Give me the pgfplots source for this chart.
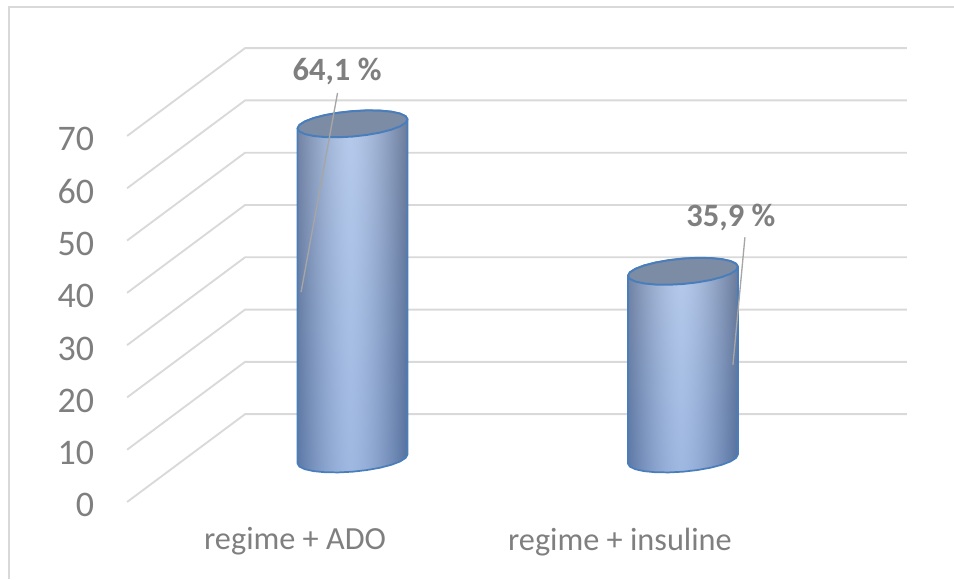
\documentclass[border=0pt]{standalone}
\usepackage{pgfplots}
\pgfplotsset{compat=1.18}
\usepackage{fontspec}
\setmainfont{Carlito}
\definecolor{wallgrey}{HTML}{D9D9D9}
\definecolor{textgrey}{HTML}{7F7F7F}
\definecolor{leader}{HTML}{A6A6A6}
\definecolor{rimblue}{HTML}{4A7EBB}
\definecolor{capfill}{HTML}{7D8CA5}

% Cylinder wall: dark towards both edges, lighter in the middle, bluer towards the base.
% The path covers the central square 25..75 of the shading; each block computes
% one channel from v (height) and w (distance from the light stripe).
\pgfdeclarefunctionalshading{cylwall}{\pgfpointorigin}{\pgfpoint{100bp}{100bp}}{}{
  25 sub 50 div exch
  49 sub abs 26 div dup sqrt mul
  2 copy exch dup 0.09 mul 0.62 add exch 0.09 mul 0.33 add
  2 index mul exch 2 index 1 exch sub mul add exch pop 3 1 roll
  2 copy exch dup 0.07 mul 0.72 add exch 0.04 mul 0.44 add
  2 index mul exch 2 index 1 exch sub mul add exch pop 3 1 roll
  2 copy exch dup 0.04 mul 0.88 add exch -0.02 mul 0.62 add
  2 index mul exch 2 index 1 exch sub mul add exch pop 3 1 roll
  pop pop
}

\pgfplotsset{
  canvas/.style={
    scale only axis, width=715.5pt, height=434.25pt,
    xmin=0, xmax=954, axis line style={draw=none},
    major tick length=0pt, clip=true,
  },
  wall/.style={wallgrey, line width=1.4pt, no marks, forget plot},
  body/.style={shading=cylwall, draw=rimblue, line width=1.3pt, line join=round, no marks},
  cap/.style={fill=capfill, draw=rimblue, line width=1.5pt, line join=round, no marks},
  lead/.style={leader, line width=1pt, no marks},
}

\begin{document}
\begin{tikzpicture}
% Floor and wall grid, with the value scale on the front edge
\begin{axis}[canvas,
    ymin=-14.72, ymax=95.98,
    xtick={295,620},
    xticklabels={regime + ADO, regime + insuline},
    xticklabel style={font=\fontsize{24.2}{25}\selectfont, text=textgrey, yshift=42pt},
    ytick={0,10,...,70},
    yticklabel style={font=\fontsize{27}{27}\selectfont, text=textgrey, anchor=east, xshift=74pt, yshift=-2.5pt},
    /pgf/number format/assume math mode=true,
  ]
  \addplot[wallgrey, line width=1pt, no marks] coordinates {(9,-14.72) (9,94.65) (954,94.65)};
  \addplot[wall] coordinates {(127,0)  (245,16.8) (907,16.8)};
  \addplot[wall] coordinates {(127,10) (245,26.8) (907,26.8)};
  \addplot[wall] coordinates {(127,20) (245,36.8) (907,36.8)};
  \addplot[wall] coordinates {(127,30) (245,46.8) (907,46.8)};
  \addplot[wall] coordinates {(127,40) (245,56.8) (907,56.8)};
  \addplot[wall] coordinates {(127,50) (245,66.8) (907,66.8)};
  \addplot[wall] coordinates {(127,60) (245,76.8) (907,76.8)};
  \addplot[wall] coordinates {(127,70) (245,86.8) (907,86.8)};
\end{axis}

% Cylinders, measured from the floor at their own depth
\begin{axis}[canvas,
    ymin=-22.94, ymax=87.76,
    xtick=\empty, ytick=\empty,
  ]
  % regime + ADO : 64.1
  \addplot[body] coordinates {
    (297.5,-0.860) (299.4,-1.459) (304.9,-1.958) (313.6,-2.323) (325.0,-2.531)
    (338.3,-2.566) (352.5,-2.426) (366.7,-2.120) (380.0,-1.671) (391.4,-1.107)
    (400.1,-0.468) (405.6,0.203) (407.5,0.860)
    (407.5,64.960) (405.6,65.559) (400.1,66.058) (391.4,66.423) (380.0,66.631)
    (366.7,66.666) (352.5,66.526) (338.3,66.220) (325.0,65.771) (313.6,65.207)
    (304.9,64.568) (299.4,63.897) (297.5,63.240)
  } -- cycle;
  \addplot[cap] coordinates {
    (407.5,64.960) (405.6,65.559) (400.1,66.058) (391.4,66.423) (380.0,66.631)
    (366.7,66.666) (352.5,66.526) (338.3,66.220) (325.0,65.771) (313.6,65.207)
    (304.9,64.568) (299.4,63.897) (297.5,63.240) (299.4,62.641) (304.9,62.142)
    (313.6,61.777) (325.0,61.569) (338.3,61.534) (352.5,61.674) (366.7,61.980)
    (380.0,62.429) (391.4,62.993) (400.1,63.632) (405.6,64.303)
  } -- cycle;
  % regime + insuline : 35.9
  \addplot[body] coordinates {
    (628.0,-0.860) (629.9,-1.459) (635.4,-1.958) (644.1,-2.323) (655.5,-2.531)
    (668.8,-2.566) (683.0,-2.426) (697.2,-2.120) (710.5,-1.671) (721.9,-1.107)
    (730.6,-0.468) (736.1,0.203) (738.0,0.860)
    (738.0,36.760) (736.1,37.359) (730.6,37.858) (721.9,38.223) (710.5,38.431)
    (697.2,38.466) (683.0,38.326) (668.8,38.020) (655.5,37.571) (644.1,37.007)
    (635.4,36.368) (629.9,35.697) (628.0,35.040)
  } -- cycle;
  \addplot[cap] coordinates {
    (738.0,36.760) (736.1,37.359) (730.6,37.858) (721.9,38.223) (710.5,38.431)
    (697.2,38.466) (683.0,38.326) (668.8,38.020) (655.5,37.571) (644.1,37.007)
    (635.4,36.368) (629.9,35.697) (628.0,35.040) (629.9,34.441) (635.4,33.942)
    (644.1,33.577) (655.5,33.369) (668.8,33.334) (683.0,33.474) (697.2,33.780)
    (710.5,34.229) (721.9,34.793) (730.6,35.432) (736.1,36.103)
  } -- cycle;
  % Leader lines and value labels
  \addplot[lead] coordinates {(337.5,70.0) (301,31.9)};
  \addplot[lead] coordinates {(745,42.4) (733,18.0)};
  \node[text=textgrey, font=\bfseries\fontsize{24.4}{25}\selectfont] at (axis cs:337,74.2) {64,1 \%};
  \node[text=textgrey, font=\bfseries\fontsize{24.4}{25}\selectfont] at (axis cs:731,46.1) {35,9 \%};
\end{axis}
\end{tikzpicture}
\end{document}
